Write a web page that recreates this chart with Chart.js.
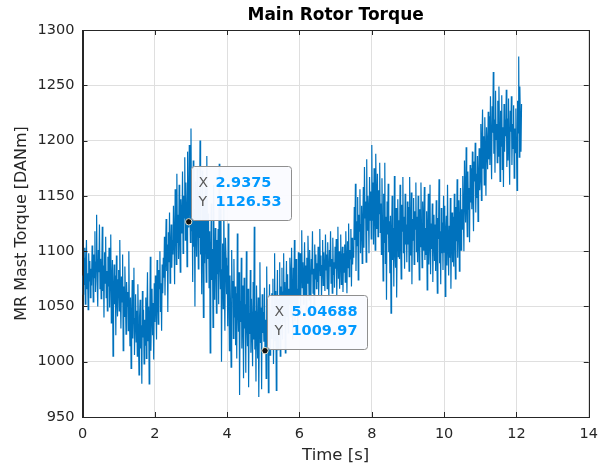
<!DOCTYPE html>
<html>
<head>
<meta charset="utf-8">
<script src="https://cdn.jsdelivr.net/npm/chart.js@4.4.1/dist/chart.umd.min.js"></script>
<style>
  html, body { margin: 0; padding: 0; background: #fff; }
  #wrap { width: 607px; height: 469px; }
</style>
</head>
<body>
<div id="wrap"><canvas id="torqueChart" width="607" height="469"></canvas></div>
<script>
// sample period of the recording (s)
const sampleStep = 1 / 64;

// MR mast torque [DANm], one row per quarter second
const torque = [
  1078,1061,1094,1070,1103,1052,1086,1110,1066,1080,1047,1098,1073,1091,1058,1084,
  1069,1105,1088,1054,1097,1076,1118,1063,1090,1133,1072,1050,1101,1081,1124,1066,
  1093,1057,1080,1122,1064,1087,1040,1099,1071,1113,1058,1082,1046,1095,1068,1103,
  1049,1081,1115,1035,1070,1092,1005,1063,1088,1052,1078,1024,1096,1058,1041,1074,
  1083,1046,1110,1062,1030,1077,1054,1097,1010,1068,1041,1086,1059,1025,1072,1050,
  1063,1028,1100,1045,1014,1058,994,1036,1074,1021,1049,1085,1006,1039,1061,1018,
  1046,1005,1070,1027,988,1041,1056,1012,1033,980,1064,1022,1047,998,1038,1015,
  1058,1003,1042,1081,1019,1050,980,1031,1095,1010,1044,1066,1024,1053,1002,1071,
  1036,1078,1049,1020,1092,1057,1034,1083,1066,1100,1045,1071,1028,1088,1062,1094,
  1076,1113,1060,1098,1129,1082,1106,1045,1117,1090,1135,1071,1102,1124,1085,1110,
  1097,1141,1112,1070,1156,1125,1088,1170,1108,1133,1093,1160,1119,1081,1147,1128,
  1116,1172,1098,1150,1130,1185,1110,1162,1141,1086,1190,1122,1126.5,1196,1140,1108,
  1211,1118,1147,1072,1182,1104,1138,1050,1163,1121,1095,1175,1130,1084,1154,1112,
  1200,1097,1128,1061,1173,1115,1040,1142,1089,1158,1106,1072,1186,1119,1093,1134,
  1067,1118,1008,1095,1143,1074,1102,1031,1160,1086,1056,1121,1099,1044,1110,1079,
  1120,1052,1179,1091,1066,1138,1000,1083,1107,1048,1150,1075,1028,1112,1094,1061,
  1087,1032,1125,1064,1010,1078,1049,995,1101,1058,1073,1021,1093,1040,1068,1015,
  1062,1003,1116,1048,1027,1081,970,1055,1036,1094,1012,1069,1041,985,1076,1030,
  1052,990,1100,1038,1014,1066,977,1044,1025,1083,1008,1057,1031,996,1072,1020,
  1122,1011,1046,982,1069,1028,1003,1058,968,1035,1090,1017,1049,975,1061,1026,
  1045,1018,1067,1010,1038,985,1086,1024,1052,972,1033,1070,1006,1047,1021,1062,
  1030,1075,998,1050,1098,1019,1064,974,1042,1083,1011,1057,1035,1090,1005,1068,
  1047,1085,1020,1063,1098,1036,1072,1008,1058,1091,1041,1079,1026,1066,1052,1094,
  1078,1040,1103,1061,1020,1085,1054,1110,1037,1070,1093,1048,1066,1030,1099,1057,
  1063,1098,1041,1082,1119,1067,1090,1052,1076,1108,1060,1087,1046,1094,1071,1114,
  1088,1056,1101,1072,1045,1093,1079,1118,1062,1084,1050,1106,1075,1097,1066,1089,
  1072,1104,1060,1091,1120,1078,1096,1056,1087,1110,1069,1099,1081,1064,1115,1083,
  1097,1066,1108,1080,1058,1101,1086,1118,1071,1093,1062,1112,1079,1090,1067,1104,
  1084,1111,1059,1096,1122,1075,1100,1066,1092,1115,1070,1088,1104,1063,1098,1081,
  1106,1072,1118,1090,1062,1109,1085,1125,1077,1101,1093,1120,1068,1112,1088,1104,
  1094,1140,1110,1161,1082,1127,1105,1149,1074,1133,1118,1156,1098,1124,1141,1089,
  1122,1158,1103,1176,1130,1145,1090,1183,1119,1150,1137,1098,1167,1128,1154,1111,
  1196,1128,1162,1106,1175,1139,1101,1188,1146,1120,1170,1113,1155,1134,1180,1117,
  1143,1097,1166,1120,1073,1152,1108,1180,1089,1131,1056,1145,1115,1161,1099,1127,
  1080,1132,1044,1113,1150,1092,1121,1068,1168,1101,1085,1139,1058,1116,1147,1095,
  1128,1093,1160,1110,1075,1142,1118,1167,1098,1131,1084,1152,1106,1124,1090,1145,
  1106,1140,1082,1167,1115,1096,1153,1070,1129,1110,1148,1088,1136,1120,1162,1099,
  1131,1090,1150,1112,1074,1138,1104,1162,1118,1085,1145,1101,1127,1158,1092,1121,
  1097,1136,1065,1119,1152,1088,1108,1160,1079,1125,1102,1143,1072,1114,1133,1091,
  1124,1082,1146,1103,1062,1130,1111,1165,1089,1118,1070,1139,1098,1126,1083,1150,
  1099,1141,1059,1116,1132,1087,1160,1105,1078,1123,1094,1148,1066,1112,1135,1090,
  1131,1086,1152,1117,1075,1140,1109,1165,1094,1128,1146,1082,1123,1157,1101,1138,
  1120,1168,1135,1100,1182,1149,1126,1194,1141,1113,1172,1138,1157,1108,1178,1144,
  1175,1138,1190,1152,1118,1181,1163,1198,1135,1170,1148,1186,1127,1166,1193,1155,
  1168,1215,1146,1198,1228,1175,1204,1160,1221,1187,1150,1212,1193,1174,1226,1183,
  1222,1178,1240,1196,1165,1231,1207,1262,1188,1219,1171,1245,1201,1215,1180,1236,
  1186,1249,1208,1163,1227,1195,1241,1174,1212,1158,1233,1190,1219,1204,1246,1176,
  1220,1182,1238,1196,1160,1227,1208,1240,1178,1215,1193,1232,1166,1211,1189,1229,
  1198,1155,1236,1207,1276,1185,1249,1216,1190,1233
];

// data tips
const tipX = [2.9375, 5.04688];
const tipY = [1126.53, 1009.97];

// axes
const xMin = 0, xMax = 14, xStep = 2;
const yMin = 950, yMax = 1300, yStep = 50;

const chartTitle = "Main Rotor Torque";
const axisColor = "#262626";
const gridColor = "#dfdfdf";
const fontFamily = "'DejaVu Sans', sans-serif";

// box round the axes, inward ticks and the title centred on the axes
const axesBox = {
  id: "axesBox",
  afterDatasetsDraw(chart) {
    const { ctx, chartArea: a, scales } = chart;
    ctx.save();
    ctx.strokeStyle = axisColor;
    ctx.lineWidth = 1;
    ctx.beginPath();
    scales.x.ticks.forEach((t) => {
      const px = Math.round(scales.x.getPixelForValue(t.value)) + 0.5;
      ctx.moveTo(px, a.bottom); ctx.lineTo(px, a.bottom - 5);
      ctx.moveTo(px, a.top); ctx.lineTo(px, a.top + 5);
    });
    scales.y.ticks.forEach((t) => {
      const py = Math.round(scales.y.getPixelForValue(t.value)) + 0.5;
      ctx.moveTo(a.left, py); ctx.lineTo(a.left + 5, py);
      ctx.moveTo(a.right, py); ctx.lineTo(a.right - 5, py);
    });
    ctx.stroke();
    ctx.strokeRect(Math.round(a.left) + 0.5, Math.round(a.top) + 0.5,
      Math.round(a.right - a.left), Math.round(a.bottom - a.top));

    ctx.fillStyle = "#000";
    ctx.font = "bold 17px " + fontFamily;
    ctx.textAlign = "center";
    ctx.textBaseline = "middle";
    ctx.fillText(chartTitle, (a.left + a.right) / 2, 16);
    ctx.restore();
  },
};

// datatip boxes
const dataTips = {
  id: "dataTips",
  afterDraw(chart) {
    const { ctx, scales } = chart;
    ctx.save();
    for (let i = 0; i < tipX.length; i++) {
      const mx = scales.x.getPixelForValue(tipX[i]);
      const my = scales.y.getPixelForValue(tipY[i]);
      const left = Math.round(mx + 2) + 0.5;
      const top = Math.round(my - 56) + 0.5;
      const w = 100, h = 54;
      ctx.beginPath();
      ctx.roundRect(left, top, w, h, 3);
      ctx.fillStyle = "rgba(250,251,255,0.96)";
      ctx.fill();
      ctx.strokeStyle = "#8f8f8f";
      ctx.lineWidth = 1;
      ctx.stroke();

      ctx.textBaseline = "middle";
      ctx.textAlign = "left";
      ctx.fillStyle = "#595959";
      ctx.font = "14px " + fontFamily;
      ctx.fillText("X", left + 7, top + 17);
      ctx.fillText("Y", left + 7, top + 36);
      ctx.fillStyle = "#0099ff";
      ctx.font = "bold 14.5px " + fontFamily;
      ctx.fillText(String(tipX[i]), left + 24, top + 17);
      ctx.fillText(String(tipY[i]), left + 24, top + 36);

      // marker
      ctx.beginPath();
      ctx.arc(mx, my, 3.2, 0, Math.PI * 2);
      ctx.fillStyle = "#111";
      ctx.fill();
      ctx.strokeStyle = "#e6e6d2";
      ctx.lineWidth = 1;
      ctx.stroke();
    }
    ctx.restore();
  },
};

const points = torque.map((v, i) => ({ x: i * sampleStep, y: v }));

const ctx = document.getElementById("torqueChart").getContext("2d");
const myChart = new Chart(ctx, {
  type: "line",
  data: {
    datasets: [
      {
        label: "MR Mast Torque",
        data: points,
        borderColor: "#0072bd",
        borderWidth: 1.2,
        pointRadius: 0,
        tension: 0,
        fill: false,
      },
    ],
  },
  options: {
    responsive: false,
    animation: false,
    events: [],
    layout: { padding: { left: 0, right: 16, top: 30, bottom: 0 } },
    plugins: {
      legend: { display: false },
      tooltip: { enabled: false },
      title: { display: false },
    },
    scales: {
      x: {
        type: "linear",
        min: xMin,
        max: xMax,
        ticks: {
          stepSize: xStep,
          color: axisColor,
          padding: 9,
          maxRotation: 0,
          font: { family: fontFamily, size: 14.5 },
          callback: (v) => String(v),
        },
        grid: { color: gridColor, drawTicks: false },
        border: { color: axisColor },
        title: {
          display: true,
          text: "Time [s]",
          color: axisColor,
          font: { family: fontFamily, size: 16.5 },
          padding: { top: 0, bottom: 3 },
        },
        afterFit(scale) { scale.height = 52; },
      },
      y: {
        min: yMin,
        max: yMax,
        ticks: {
          stepSize: yStep,
          color: axisColor,
          padding: 8,
          font: { family: fontFamily, size: 14.5 },
          callback: (v) => String(v),
        },
        grid: { color: gridColor, drawTicks: false },
        border: { color: axisColor },
        title: {
          display: true,
          text: "MR Mast Torque [DANm]",
          color: axisColor,
          font: { family: fontFamily, size: 16 },
          padding: { top: 12, bottom: 0 },
        },
        afterFit(scale) { scale.width = 82.5; },
      },
    },
  },
  plugins: [axesBox, dataTips],
});
</script>
</body>
</html>
